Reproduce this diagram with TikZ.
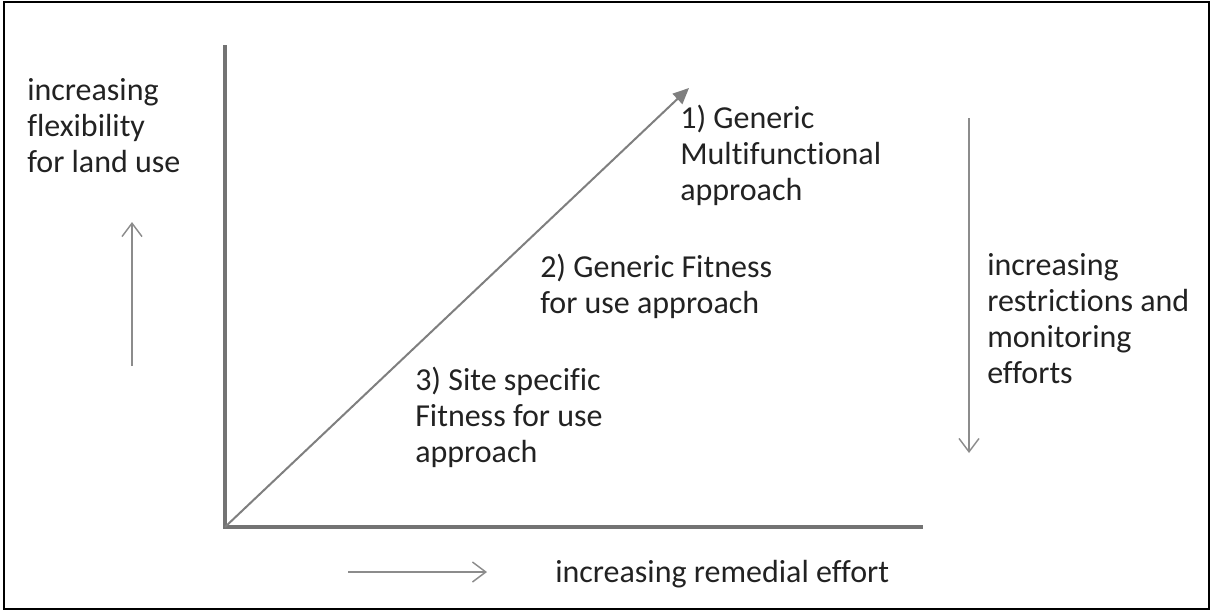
\documentclass[tikz,border=0pt]{standalone}
\usepackage{fontspec}
\setmainfont{Carlito}[Ligatures=NoCommon]
\usetikzlibrary{arrows.meta}
\definecolor{axisgray}{HTML}{737373}
\definecolor{diaggray}{HTML}{7F7F7F}
\definecolor{thingray}{HTML}{8C8C8C}
\definecolor{txt}{HTML}{222222}
\tikzset{
  lbl/.style={anchor=base west, inner sep=0pt, align=left, text=txt,
    font=\fontsize{24pt}{27pt}\selectfont},
  axisline/.style={draw=axisgray, line width=3pt},
  diagarrow/.style={draw=diaggray, line width=1.5pt, -{Triangle[length=12pt,width=10.5pt]}},
  thinarrow/.style={draw=thingray, line width=1.1pt, -{Straight Barb[length=10pt,width=15pt]}}
}
\begin{document}
\begin{tikzpicture}[x=0.75pt,y=-0.75pt]
\useasboundingbox (0,0) rectangle (1212,611);
\draw[black, line width=1.5pt] (4,2) rectangle (1209,609);
% axes
\coordinate (ytop) at (225,45);
\coordinate (O) at (225,527);
\coordinate (xend) at (923,527);
\coordinate (diagtip) at (689,88);
\draw[axisline] (ytop) -- (O) -- (xend);
\draw[diagarrow] (O) -- (diagtip);
% small arrows
\coordinate (upS) at (132,366);
\coordinate (upE) at (132,222);
\draw[thinarrow] (upS) -- (upE);
\coordinate (rtS) at (348,572);
\coordinate (rtE) at (487,572);
\draw[thinarrow] (rtS) -- (rtE);
\coordinate (dnS) at (969,118);
\coordinate (dnE) at (969,453);
\draw[thinarrow] (dnS) -- (dnE);
% labels (base = baseline of last line)
\node[lbl] (flex) at (27,172) {increasing\\flexibility\\for land use};
\node[lbl] (a1) at (680,200) {1) Generic\\Multifunctional\\approach};
\node[lbl] (a2) at (540,313) {2) Generic Fitness\\for use approach};
\node[lbl] (a3) at (415,462) {3) Site specific\\Fitness for use\\approach};
\node[lbl] (restr) at (987,383) {increasing\\restrictions and\\monitoring\\efforts};
\node[lbl] (remed) at (555,582) {increasing remedial effort};
\end{tikzpicture}
\end{document}
